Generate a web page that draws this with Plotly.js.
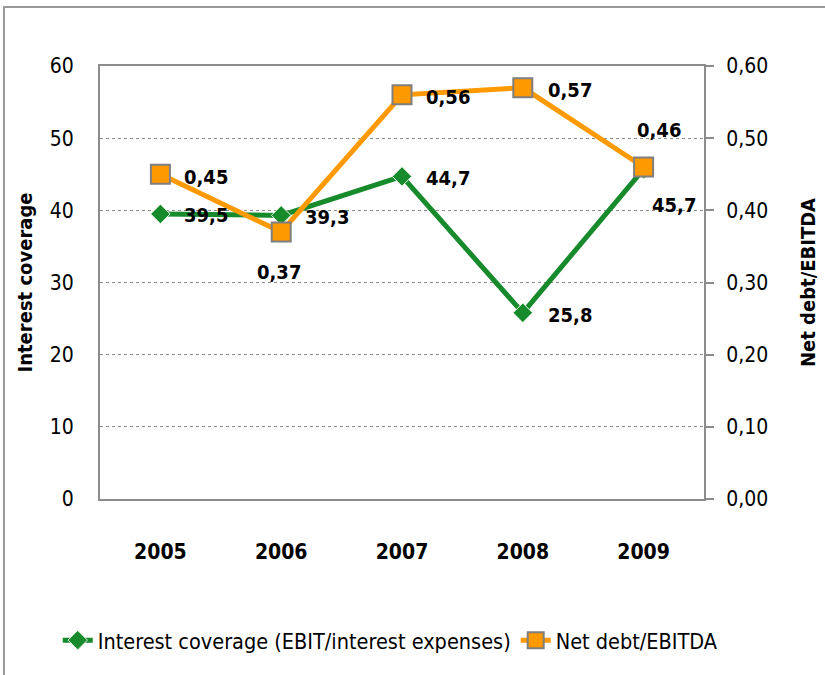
<!DOCTYPE html>
<html>
<head>
<meta charset="utf-8">
<script src="https://cdn.plot.ly/plotly-3.0.1.min.js"></script>
<style>
html,body{margin:0;padding:0;background:#fff;}
#chart{width:825px;height:675px;}
</style>
</head>
<body>
<div id="chart"></div>
<script>
const years = ["2005", "2006", "2007", "2008", "2009"];
const interestCoverage = [39.5, 39.3, 44.7, 25.8, 45.7];
const netDebtEbitda = [0.45, 0.37, 0.56, 0.57, 0.46];
const leftTicks = [0, 10, 20, 30, 40, 50, 60];
const rightTicks = [0, 0.1, 0.2, 0.3, 0.4, 0.5, 0.6];

const FONT = "'DejaVu Sans Condensed', 'Liberation Sans Narrow', 'Arial Narrow', sans-serif";
const GREEN = "#178a2b";
const ORANGE = "#ff9900";
const GREY = "#8c8c8c";

const fmt = (v, d) => v.toFixed(d).replace(".", ",");

// label offsets (pixels) per point
const icShift = [[46, -1], [46, -2], [46, -2], [47, -2], [30, -36]];
const ndShift = [[46, -3], [-2, -40], [46, -2], [47, -2], [15, 37]];

const annotations = [];
years.forEach((yr, i) => {
  annotations.push({
    x: i, y: interestCoverage[i], xref: "x", yref: "y",
    text: "<b>" + fmt(interestCoverage[i], 1) + "</b>", showarrow: false,
    xshift: icShift[i][0], yshift: icShift[i][1],
    font: {family: FONT, size: 20, color: "#000"}
  });
  annotations.push({
    x: i, y: netDebtEbitda[i], xref: "x", yref: "y2",
    text: "<b>" + fmt(netDebtEbitda[i], 2) + "</b>", showarrow: false,
    xshift: ndShift[i][0], yshift: ndShift[i][1],
    font: {family: FONT, size: 20, color: "#000"}
  });
});

const traces = [
  {
    x: years, y: interestCoverage, name: "Interest coverage (EBIT/interest expenses)",
    type: "scatter", mode: "lines+markers", yaxis: "y",
    line: {color: GREEN, width: 5},
    marker: {symbol: "diamond", size: 15, color: GREEN, line: {color: "#e8f5e8", width: 1}}
  },
  {
    x: years, y: netDebtEbitda, name: "Net debt/EBITDA",
    type: "scatter", mode: "lines+markers", yaxis: "y2",
    line: {color: ORANGE, width: 5},
    marker: {symbol: "square", size: 19, color: ORANGE, line: {color: "#7f7f7f", width: 2}}
  }
];

const layout = {
  width: 825, height: 675,
  margin: {l: 100, r: 121, t: 66, b: 176, autoexpand: false},
  paper_bgcolor: "#fff", plot_bgcolor: "#fff",
  font: {family: FONT, size: 20, color: "#000"},
  showlegend: true,
  legend: {
    orientation: "h",
    x: -0.070, xanchor: "left", y: -0.326, yanchor: "middle",
    font: {family: FONT, size: 21.5, color: "#000"}
  },
  xaxis: {
    type: "category", range: [-0.5, 4.5], automargin: false,
    showline: true, linecolor: GREY, linewidth: 2, mirror: true,
    ticks: "", showgrid: false, zeroline: false,
    tickfont: {family: FONT, size: 21, weight: "bold"},
    ticklabelstandoff: 33
  },
  yaxis: {
    range: [0, 60], tickvals: leftTicks, ticktext: leftTicks.map(v => String(v)),
    automargin: false,
    showline: true, linecolor: GREY, linewidth: 2,
    ticks: "", showgrid: true, gridcolor: "#8a8a8a", griddash: "dot", gridwidth: 1,
    zeroline: false,
    tickfont: {family: FONT, size: 21},
    ticklabelstandoff: 20,
    title: {text: "<b>Interest coverage</b>", font: {family: FONT, size: 20}, standoff: 12}
  },
  yaxis2: {
    range: [0, 0.6], overlaying: "y", side: "right", automargin: false,
    tickvals: rightTicks, ticktext: rightTicks.map(v => fmt(v, 2)),
    showline: true, linecolor: GREY, linewidth: 2,
    ticks: "outside", ticklen: 8, tickcolor: GREY, tickwidth: 2,
    showgrid: false, zeroline: false,
    tickfont: {family: FONT, size: 21},
    ticklabelstandoff: 8,
    title: {text: "<b>Net debt/EBITDA</b>", font: {family: FONT, size: 20}, standoff: 34}
  },
  annotations: annotations,
  shapes: [{
    type: "rect", xref: "paper", yref: "paper",
    x0: -0.159, x1: 1.4, y0: -0.6, y1: 1.136,
    line: {color: "#9a9a9a", width: 2}, fillcolor: "rgba(0,0,0,0)", layer: "below"
  }]
};

Plotly.newPlot("chart", traces, layout, {displayModeBar: false, staticPlot: true});
</script>
</body>
</html>
